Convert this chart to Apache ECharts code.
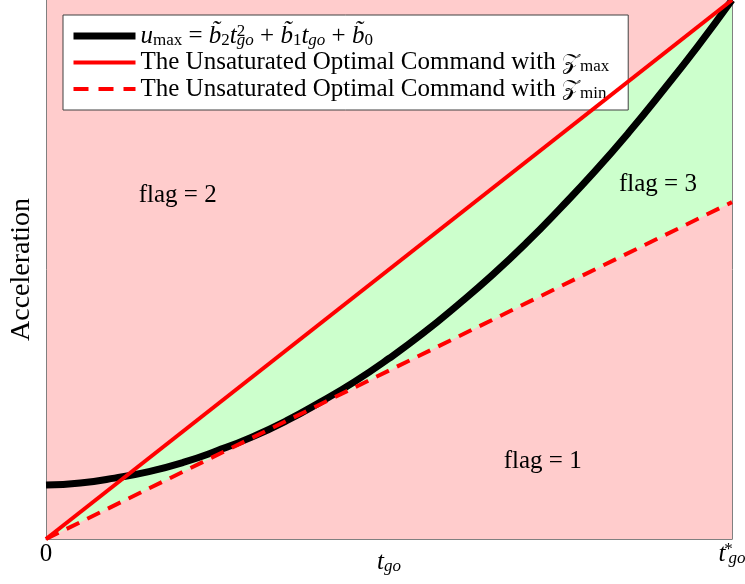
<!DOCTYPE html>
<html>
<head>
<meta charset="utf-8">
<script src="https://cdn.jsdelivr.net/npm/echarts@6/dist/echarts.min.js"></script>
<style>
  html, body { margin: 0; padding: 0; background: #ffffff; }
  #chart { width: 745px; height: 584px; }
</style>
</head>
<body>
<div id="chart"></div>
<script>
// Time-to-go axis, normalised so that t_go* = 1
const tgo = [0, 0.05, 0.1, 0.15, 0.2, 0.25, 0.3, 0.35, 0.4, 0.45, 0.5,
             0.55, 0.6, 0.65, 0.7, 0.75, 0.8, 0.85, 0.9, 0.95, 1];
// Maximum acceleration bound u_max(t_go)
const uMax = [0.100, 0.104, 0.113, 0.125, 0.142, 0.164, 0.189, 0.219, 0.254, 0.292, 0.335,
              0.382, 0.434, 0.489, 0.549, 0.614, 0.682, 0.755, 0.833, 0.914, 1.000];
// Unsaturated optimal commands (straight lines through the origin)
const cmdT = [0, 1];
const cmdZmax = [0, 1.0];
const cmdZmin = [0, 0.625];
// Region labels and where they sit (t_go, acceleration)
const flagNames = ['flag = 1', 'flag = 2', 'flag = 3'];
const flagT = [0.724, 0.192, 0.892];
const flagAcc = [0.143, 0.638, 0.657];

const FONT = 'Liberation Serif';
const BASE = 25;
const zip = (xs, ys) => xs.map((x, i) => [x, ys[i]]);

const rich = {
  r:    { fontFamily: FONT, fontSize: BASE, lineHeight: 26, color: '#000' },
  i:    { fontFamily: FONT, fontSize: BASE, lineHeight: 26, fontStyle: 'italic', color: '#000' },
  z:    { fontFamily: FONT, fontSize: 23, lineHeight: 26, color: '#000' },
  sub:  { fontFamily: FONT, fontSize: 17, lineHeight: 8, verticalAlign: 'bottom', color: '#000' },
  isub: { fontFamily: FONT, fontSize: 17, lineHeight: 8, verticalAlign: 'bottom', fontStyle: 'italic', color: '#000' },
  sup0: { fontFamily: FONT, fontSize: 17, lineHeight: 12, verticalAlign: 'top', width: 0, align: 'left', color: '#000' },
  star: { fontFamily: FONT, fontSize: 17, lineHeight: 12, verticalAlign: 'top', width: 0, align: 'left',
          padding: [0, 0, 0, 3], color: '#000' }
};

const legendText = {
  'u_max': '{i|u}{sub|max}{r| = }{i|b\u0303}{sub|2}{i|t}{sup0|2}{isub|go}{r| + }{i|b\u0303}{sub|1}{i|t}{isub|go}{r| + }{i|b\u0303}{sub|0}',
  'Z_max command': '{r|The Unsaturated Optimal Command with }{z|\uD835\uDCB5}{sub|max}',
  'Z_min command': '{r|The Unsaturated Optimal Command with }{z|\uD835\uDCB5}{sub|min}'
};

const AXIS_GREY = '#808080';
const PINK = '#FFCCCC';
const GREEN = '#CCFFCC';

const chart = echarts.init(document.getElementById('chart'), null, { renderer: 'canvas' });

chart.setOption({
  animation: false,
  backgroundColor: '#ffffff',
  grid: {
    left: 46, right: 13, top: 0, bottom: 45,
    outerBoundsMode: 'none',
    containLabel: false,
    show: true, backgroundColor: PINK, borderWidth: 0
  },
  legend: {
    orient: 'vertical',
    left: 63, top: 15,
    padding: [8, 19, 8, 7],
    itemGap: 1,
    itemWidth: 62,
    itemHeight: 26,
    itemStyle: { opacity: 0 },
    backgroundColor: '#ffffff',
    borderColor: '#404040',
    borderWidth: 1,
    borderRadius: 0,
    selectedMode: false,
    data: [
      { name: 'u_max', lineStyle: { width: 7 } },
      { name: 'Z_max command', lineStyle: { width: 4 } },
      { name: 'Z_min command', lineStyle: { width: 4, type: [15, 10] } }
    ],
    formatter: name => legendText[name],
    textStyle: { rich: rich }
  },
  xAxis: {
    type: 'value', min: 0, max: 1, interval: 1,
    axisLine: { show: true, lineStyle: { color: AXIS_GREY, width: 1 } },
    axisTick: { show: false },
    splitLine: { show: false },
    axisLabel: {
      margin: 2,
      formatter: v => (v === 0 ? '{r|0}' : '{i|t}{star|*}{isub|go}'),
      rich: rich
    },
    name: '{i|t}{isub|go}',
    nameLocation: 'middle',
    nameGap: 10,
    nameMoveOverlap: false,
    nameTextStyle: { rich: rich }
  },
  yAxis: [
    {
      type: 'value', min: 0, max: 1,
      axisLine: { show: true, lineStyle: { color: AXIS_GREY, width: 1 } },
      axisTick: { show: false },
      axisLabel: { show: false },
      splitLine: { show: false },
      name: 'Acceleration',
      nameLocation: 'middle',
      nameGap: 10,
      nameMoveOverlap: false,
      nameTextStyle: { fontFamily: FONT, fontSize: 28, color: '#000' }
    },
    {
      type: 'value', min: 0, max: 1, position: 'right',
      axisLine: { show: true, lineStyle: { color: AXIS_GREY, width: 1 } },
      axisTick: { show: false },
      axisLabel: { show: false },
      splitLine: { show: false }
    }
  ],
  series: [
    // region between the two unsaturated commands (flag = 3)
    {
      name: 'fill upper', type: 'line', data: zip(cmdT, cmdZmax),
      symbol: 'none', silent: true, z: 1,
      lineStyle: { width: 0 },
      areaStyle: { color: GREEN, opacity: 1 }
    },
    {
      name: 'fill lower', type: 'line', data: zip(cmdT, cmdZmin),
      symbol: 'none', silent: true, z: 1,
      lineStyle: { width: 0 },
      areaStyle: { color: PINK, opacity: 1 }
    },
    {
      name: 'u_max', type: 'line', data: zip(tgo, uMax),
      symbol: 'none', smooth: true, z: 3,
      itemStyle: { color: '#000000' },
      lineStyle: { color: '#000000', width: 7 }
    },
    {
      name: 'Z_max command', type: 'line', data: zip(cmdT, cmdZmax),
      symbol: 'none', z: 4,
      itemStyle: { color: '#ff0000' },
      lineStyle: { color: '#ff0000', width: 4 }
    },
    {
      name: 'Z_min command', type: 'line', data: zip(cmdT, cmdZmin),
      symbol: 'none', z: 4,
      itemStyle: { color: '#ff0000' },
      lineStyle: { color: '#ff0000', width: 4, type: [14, 9] }
    },
    {
      name: 'flags', type: 'scatter', symbolSize: 0, silent: true, z: 10,
      itemStyle: { opacity: 1 },
      data: flagNames.map((n, i) => ({ name: n, value: [flagT[i], flagAcc[i]] })),
      label: {
        show: true, position: 'inside', formatter: '{b}',
        fontFamily: FONT, fontSize: BASE, color: '#000000'
      }
    }
  ]
});
</script>
</body>
</html>
